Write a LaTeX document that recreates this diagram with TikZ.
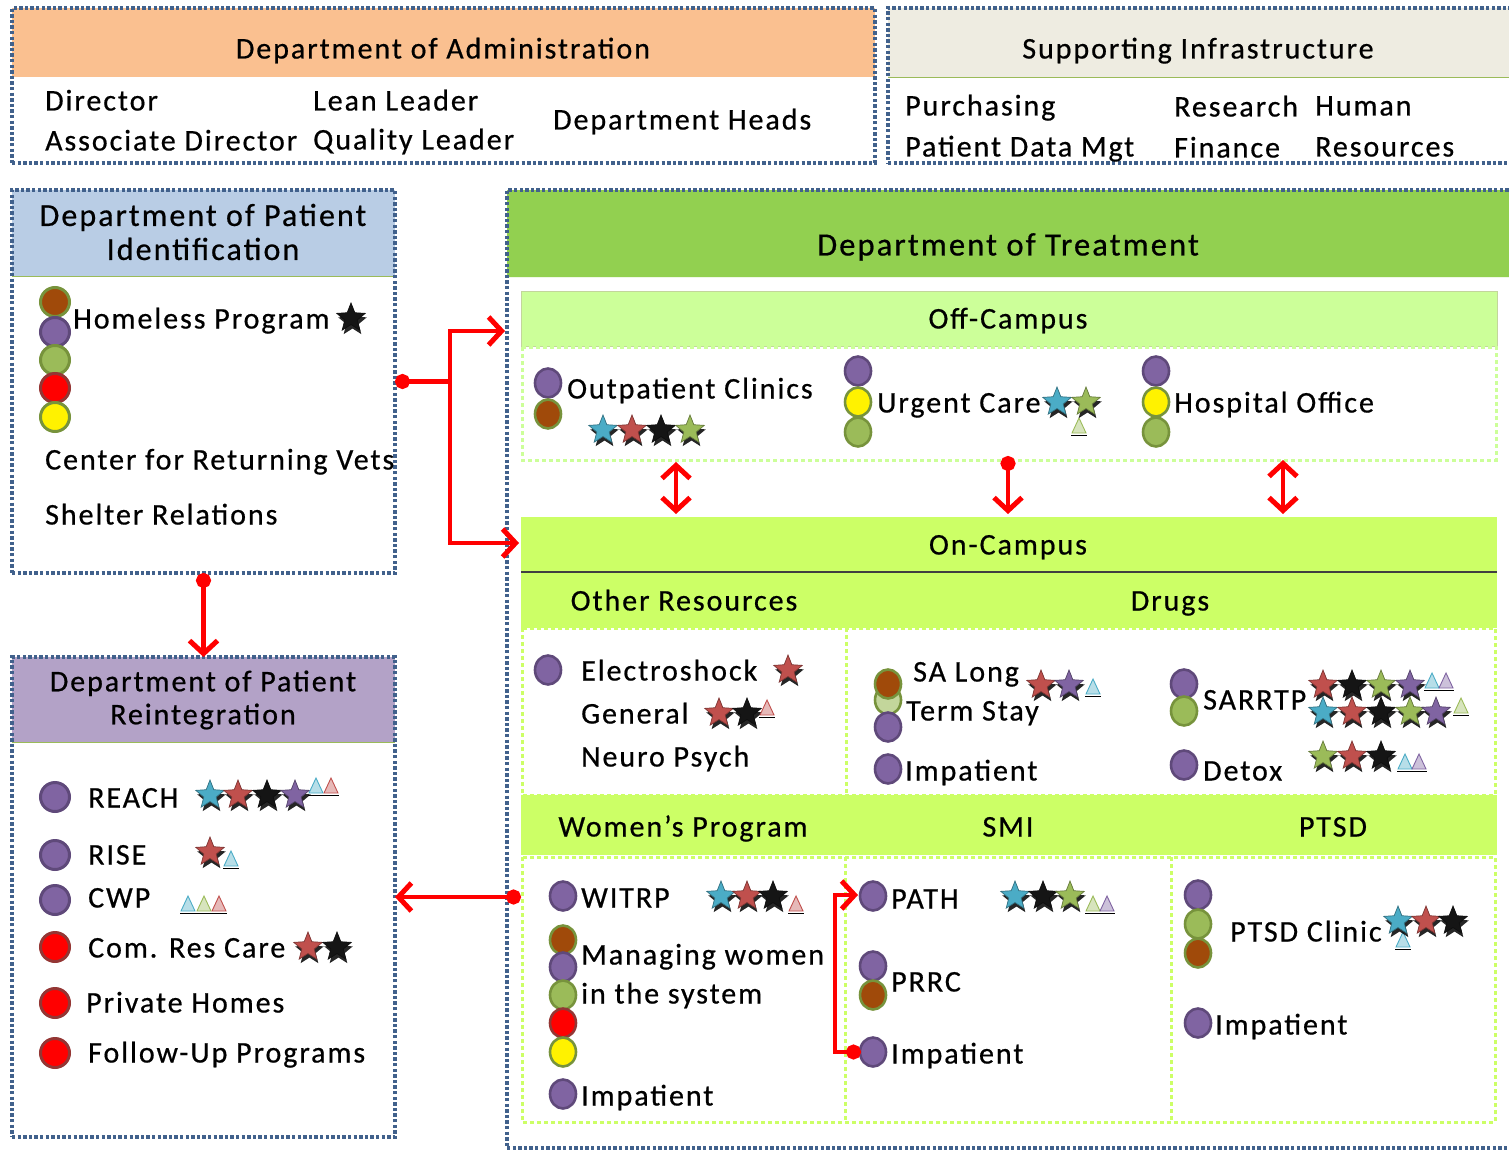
\documentclass[tikz,border=0pt]{standalone}
\usepackage{fontspec}
\setmainfont{Carlito}[LetterSpace=6.5, FakeBold=0.6]
\usetikzlibrary{shapes.geometric,arrows.meta,shadows}

\definecolor{bord}{HTML}{41618C}
\definecolor{admfill}{HTML}{FAC090}
\definecolor{supfill}{HTML}{EEECE1}
\definecolor{idfill}{HTML}{B9CDE5}
\definecolor{reifill}{HTML}{B3A2C7}
\definecolor{trtfill}{HTML}{92D050}
\definecolor{offfill}{HTML}{CCFF99}
\definecolor{onfill}{HTML}{CCFF66}
\definecolor{hdrline}{HTML}{9BBB59}
\definecolor{olive}{HTML}{77933C}
\definecolor{cpurf}{HTML}{8064A2}
\definecolor{cpurd}{HTML}{5F497A}
\definecolor{cbrnf}{HTML}{A04A0A}
\definecolor{cgrnf}{HTML}{9BBB59}
\definecolor{credd}{HTML}{943634}
\definecolor{clgrf}{HTML}{C3D69B}
\definecolor{scy}{HTML}{4BACC6}
\definecolor{sre}{HTML}{C0504D}
\definecolor{sbk}{HTML}{151515}
\definecolor{sgr}{HTML}{9BBB59}
\definecolor{spu}{HTML}{8064A2}

\begin{document}
\begin{tikzpicture}[x=1pt,y=-1pt,
  font=\fontsize{30}{33}\selectfont,
  frame/.style={draw=bord, line width=3.8pt, dash pattern=on 3.4pt off 2.2pt, inner sep=0pt, outer sep=0pt},
  cell/.style={draw=onfill, line width=3pt, dash pattern=on 4pt off 3pt},
  offcell/.style={draw=offfill, line width=3pt, dash pattern=on 4pt off 3pt},
  txt/.style={inner sep=0pt, anchor=west, text height=19pt, text depth=0pt},
  ctxt/.style={inner sep=0pt, text height=19pt, text depth=0pt},
  hdr2/.style={inner sep=0pt, align=center},
  dotL/.style={circle, minimum size=29pt, inner sep=0pt, line width=3pt},
  dotT/.style={ellipse, minimum width=26pt, minimum height=29pt, inner sep=0pt, line width=2.6pt},
  cpur/.style={fill=cpurf, draw=cpurd},
  cbrn/.style={fill=cbrnf, draw=olive},
  cgrn/.style={fill=cgrnf, draw=olive},
  cred/.style={fill=red, draw=credd},
  cyel/.style={fill=yellow, draw=olive},
  clgr/.style={fill=clgrf, draw=olive},
  st/.style={star, star points=5, star point ratio=2.3, minimum size=30pt, inner sep=0pt,
    fill=#1, draw=#1!65!black, line width=0.7pt,
    drop shadow={shadow xshift=1.5pt, shadow yshift=-4pt, opacity=0.85, fill=black}},
  pics/tri/.style={code={
    \path[fill=#1!40!white, draw=#1, line width=0.9pt] (-7,7) -- (0,-8) -- (7,7) -- cycle;
    \draw[black, line width=1.6pt] (-8,9.5) -- (8,9.5);}},
  rl/.style={draw=red, line width=4.8pt},
  barb/.tip={Straight Barb[length=13pt, width=28pt, line width=5pt]},
  dotend/.tip={Circle[length=15pt]}
]
\useasboundingbox (0,0) rectangle (1509,1150);
\clip (0,0) rectangle (1509,1150);

% ---------- Department of Administration ----------
\fill[admfill] (12,8) rectangle (875,77);
\node[frame, minimum width=863pt, minimum height=155pt] (adm) at (443.5,85.5) {};
\node[ctxt] (admT) at (443,49) {Department of Administration};
\node[txt] (dir) at (45,101) {Director};
\node[txt] (adir) at (45,141) {Associate Director};
\node[txt] (lean) at (313,101) {Lean Leader};
\node[txt] (qual) at (313,140) {Quality Leader};
\node[txt] (dheads) at (553,120) {Department Heads};

% ---------- Supporting Infrastructure ----------
\fill[supfill] (888,8) rectangle (1520,77);
\draw[hdrline, line width=1.2pt] (888,77.5) -- (1520,77.5);
\node[frame, minimum width=632pt, minimum height=155pt] (sup) at (1204,85.5) {};
\node[ctxt] (supT) at (1198,49) {Supporting Infrastructure};
\node[txt] (purch) at (905,106) {Purchasing};
\node[txt] (pdata) at (905,147) {Patient Data Mgt};
\node[txt] (resch) at (1174,107) {Research};
\node[txt] (fin) at (1174,148) {Finance};
\node[txt] (hum) at (1315,106) {Human};
\node[txt] (hres) at (1315,147) {Resources};

% ---------- Department of Patient Identification ----------
\fill[idfill] (12,190) rectangle (395,276);
\draw[hdrline, line width=1.2pt] (12,276.5) -- (395,276.5);
\node[frame, minimum width=383pt, minimum height=383pt] (ident) at (203.5,381.5) {};
\node[hdr2, font=\fontsize{32}{34}\selectfont] (identT) at (203,232) {Department of Patient\\Identification};
\node[dotL,cbrn] (idc1) at (55,302) {};
\node[dotL,cpur] (idc2) at (55,332) {};
\node[dotL,cgrn] (idc3) at (55,360) {};
\node[dotL,cred] (idc4) at (55,388) {};
\node[dotL,cyel] (idc5) at (55,417) {};
\node[txt] (homeless) at (73,319) {Homeless Program};
\node[st=sbk] (homS) at (351,318) {};
\node[txt] (crv) at (45,460) {Center for Returning Vets};
\node[txt] (shelter) at (45,515) {Shelter Relations};

% ---------- Department of Patient Reintegration ----------
\fill[reifill] (12,657) rectangle (395,742);
\draw[hdrline, line width=1.2pt] (12,742.5) -- (395,742.5);
\node[frame, minimum width=383pt, minimum height=480pt] (reint) at (203.5,897) {};
\node[hdr2] (reintT) at (203,700) {Department of Patient\\Reintegration};
\node[dotL,cpur] (rc1) at (55,797) {};
\node[dotL,cpur] (rc2) at (55,855) {};
\node[dotL,cpur] (rc3) at (55,900) {};
\node[dotL,cred] (rc4) at (55,947) {};
\node[dotL,cred] (rc5) at (55,1003) {};
\node[dotL,cred] (rc6) at (55,1053) {};
\node[txt] (reach) at (88,798) {REACH};
\node[txt] (rise) at (88,855) {RISE};
\node[txt] (cwp) at (88,898) {CWP};
\node[txt] (comres) at (88,948) {Com. Res Care};
\node[txt] (priv) at (86,1003) {Private Homes};
\node[txt] (follow) at (88,1053) {Follow-Up Programs};
\foreach \c/\x [count=\i] in {scy/210,sre/238,sbk/267,spu/295}
  \node[st=\c] (reachS\i) at (\x,795) {};
\pic (reachT1) at (316,786) {tri=scy};
\pic (reachT2) at (331,786) {tri=sre};
\node[st=sre] (riseS1) at (210,852) {};
\pic (riseT1) at (231,859) {tri=scy};
\pic (cwpT1) at (188,904) {tri=scy};
\pic (cwpT2) at (204,904) {tri=sgr};
\pic (cwpT3) at (219,904) {tri=sre};
\node[st=sre] (comS1) at (308,947) {};
\node[st=sbk] (comS2) at (337,947) {};

% ---------- Department of Treatment ----------
\fill[trtfill] (507,190) rectangle (1520,277);
\draw[white!85!trtfill, line width=1.2pt] (507,277.5) -- (1520,277.5);
\node[ctxt, font=\fontsize{32.5}{34}\selectfont] (trtT) at (1008,246) {Department of Treatment};

% Off-Campus
\fill[offfill] (521,291) rectangle (1497,346);
\draw[clgrf, line width=1pt] (521,291) rectangle (1497,346);
\draw[offcell] (522,347) rectangle (1496,460);
\node[ctxt] (offT) at (1008,319) {Off-Campus};

\node[dotT,cpur] (opc1) at (548,383) {};
\node[dotT,cbrn] (opc2) at (548,414) {};
\node[txt] (outpat) at (567,389) {Outpatient Clinics};
\foreach \c/\x [count=\i] in {scy/603,sre/632,sbk/661,sgr/690}
  \node[st=\c] (opS\i) at (\x,430) {};

\node[dotT,cpur] (ucc1) at (858,371) {};
\node[dotT,cyel] (ucc2) at (858,402) {};
\node[dotT,cgrn] (ucc3) at (858,432) {};
\node[txt] (urgent) at (877,403) {Urgent Care};
\pic (ucT1) at (1079,426) {tri=sgr};
\node[st=scy] (ucS1) at (1057,402) {};
\node[st=sgr] (ucS2) at (1086,402) {};

\node[dotT,cpur] (hoc1) at (1156,371) {};
\node[dotT,cyel] (hoc2) at (1156,402) {};
\node[dotT,cgrn] (hoc3) at (1156,432) {};
\node[txt] (hosp) at (1174,403) {Hospital Office};

% On-Campus
\fill[onfill] (521,517) rectangle (1497,628);
\draw[black!75, line width=1.5pt] (521,572) -- (1497,572);
\node[ctxt] (onT) at (1008,545) {On-Campus};
\node[ctxt] (otherT) at (684,601) {Other Resources};
\node[ctxt] (drugsT) at (1170,601) {Drugs};
\draw[cell] (522,628) rectangle (1495,795);
\draw[cell] (846,628) -- (846,795);
\fill[onfill] (521,795) rectangle (1497,855);
\node[ctxt] (womT) at (683,827) {Women’s Program};
\node[ctxt] (smiT) at (1008,827) {SMI};
\node[ctxt] (ptsdT) at (1333,827) {PTSD};
\draw[cell] (522,857) rectangle (1495,1122);
\draw[cell] (845,857) -- (845,1122);
\draw[cell] (1171,857) -- (1171,1122);

% Other Resources
\node[dotT,cpur] (orc1) at (548,670) {};
\node[txt] (electro) at (581,671) {Electroshock};
\node[st=sre] (elS1) at (788,670) {};
\node[txt] (general) at (581,714) {General};
\node[st=sre] (genS1) at (719,713) {};
\node[st=sbk] (genS2) at (747,713) {};
\pic (genT1) at (767,708) {tri=sre};
\node[txt] (neuro) at (581,757) {Neuro Psych};

% Drugs
\node[dotT,clgr] (sac2) at (888,700) {};
\node[dotT,cbrn] (sac1) at (888,684) {};
\node[dotT,cpur] (sac3) at (888,727) {};
\node[txt] (salong) at (913,672) {SA Long};
\node[txt] (sterm) at (906,711) {Term Stay};
\node[st=sre] (saS1) at (1041,685) {};
\node[st=spu] (saS2) at (1069,685) {};
\pic (saT1) at (1093,687) {tri=scy};
\node[dotT,cpur] (dimp) at (888,769) {};
\node[txt] (dimpT) at (905,771) {Impatient};

\node[dotT,cpur] (sarc1) at (1184,684) {};
\node[dotT,cgrn] (sarc2) at (1184,711) {};
\node[txt] (sarrtp) at (1203,700) {SARRTP};
\foreach \c/\x [count=\i] in {sre/1323,sbk/1352,sgr/1381,spu/1410}
  \node[st=\c] (sarA\i) at (\x,685) {};
\pic (sarT1) at (1432,681) {tri=scy};
\pic (sarT2) at (1446,681) {tri=spu};
\foreach \c/\x [count=\i] in {scy/1323,sre/1352,sbk/1381,sgr/1410,spu/1436}
  \node[st=\c] (sarB\i) at (\x,712) {};
\pic (sarT3) at (1461,706) {tri=sgr};

\node[dotT,cpur] (detc) at (1184,765) {};
\node[txt] (detox) at (1203,771) {Detox};
\foreach \c/\x [count=\i] in {sgr/1323,sre/1352,sbk/1381}
  \node[st=\c] (detS\i) at (\x,756) {};
\pic (detT1) at (1405,762) {tri=scy};
\pic (detT2) at (1419,762) {tri=spu};

% Women's Program
\node[dotT,cpur] (witc) at (563,896) {};
\node[txt] (witrp) at (581,898) {WITRP};
\foreach \c/\x [count=\i] in {scy/721,sre/747,sbk/773}
  \node[st=\c] (witS\i) at (\x,896) {};
\pic (witT1) at (796,904) {tri=sre};
\node[dotT,cbrn] (mwc1) at (563,940) {};
\node[dotT,cpur] (mwc2) at (563,967) {};
\node[dotT,cgrn] (mwc3) at (563,995) {};
\node[dotT,cred] (mwc4) at (563,1023) {};
\node[dotT,cyel] (mwc5) at (563,1052) {};
\node[txt] (manag) at (581,955) {Managing women};
\node[txt] (insys) at (581,994) {in the system};
\node[dotT,cpur] (wimc) at (563,1094) {};
\node[txt] (wimp) at (581,1096) {Impatient};

% SMI
\node[dotT,cpur] (pathc) at (873,896) {};
\node[txt] (path) at (891,899) {PATH};
\foreach \c/\x [count=\i] in {scy/1015,sbk/1043,sgr/1070}
  \node[st=\c] (pathS\i) at (\x,896) {};
\pic (pathT1) at (1093,904) {tri=sgr};
\pic (pathT2) at (1107,904) {tri=spu};
\node[dotT,cpur] (prc1) at (873,966) {};
\node[dotT,cbrn] (prc2) at (873,995) {};
\node[txt] (prrc) at (891,982) {PRRC};
\node[dotT,cpur] (simc) at (873,1052) {};
\node[txt] (simp) at (891,1054) {Impatient};

% PTSD
\node[dotT,cpur] (ptc1) at (1198,895) {};
\node[dotT,cgrn] (ptc2) at (1198,924) {};
\node[dotT,cbrn] (ptc3) at (1198,953) {};
\node[txt] (ptsdc) at (1230,932) {PTSD Clinic};
\pic (ptT1) at (1403,940) {tri=scy};
\foreach \c/\x [count=\i] in {scy/1398,sre/1426,sbk/1453}
  \node[st=\c] (ptS\i) at (\x,921) {};
\node[dotT,cpur] (pimc) at (1198,1023) {};
\node[txt] (pimp) at (1215,1025) {Impatient};

% outer frame of the treatment department
\node[frame, minimum width=1013pt, minimum height=958pt] (trt) at (1013.5,669) {};

% ---------- connectors ----------
\coordinate (jct) at (450,381.5);
\coordinate (offIn) at (505,331);
\coordinate (onIn) at (519,543);
\draw[rl, dotend-] (ident.east) -- (jct);
\draw[rl, -barb] (jct) |- (offIn);
\draw[rl, -barb] (jct) |- (onIn);

\draw[rl, dotend-barb] (ident.south) -- (reint.north);

\coordinate (womL) at (521,897);
\draw[rl, dotend-barb] (womL) -- (reint.east);

\coordinate (arA1) at (676,462);
\coordinate (arA2) at (676,514);
\draw[rl, barb-barb] (arA1) -- (arA2);
\coordinate (arB1) at (1008,456);
\coordinate (arB2) at (1008,514);
\draw[rl, dotend-barb] (arB1) -- (arB2);
\coordinate (arC1) at (1283,460);
\coordinate (arC2) at (1283,514);
\draw[rl, barb-barb] (arC1) -- (arC2);

\coordinate (smiA) at (861,1052);
\coordinate (smiB) at (858,895);
\draw[rl, line width=4pt, dotend-barb] (smiA) -- ++(-26,0) |- (smiB);
\end{tikzpicture}
\end{document}
